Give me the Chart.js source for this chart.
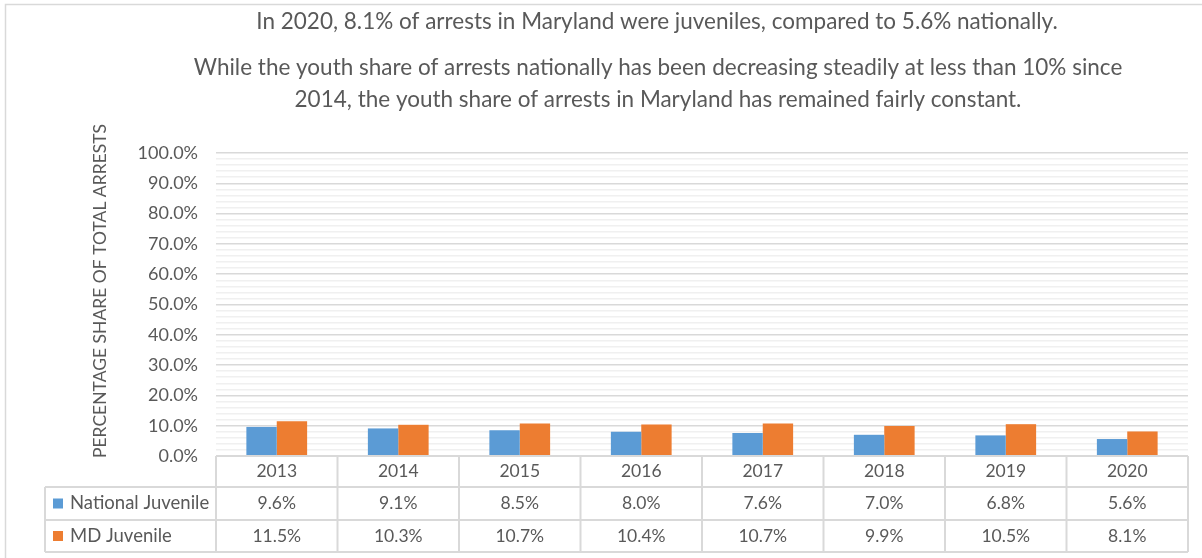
<!DOCTYPE html>
<html>
<head>
<meta charset="utf-8">
<script src="https://cdn.jsdelivr.net/npm/chart.js@4.4.1/dist/chart.umd.min.js"></script>
<style>
  html, body { margin: 0; padding: 0; background: #ffffff; }
  #wrap { width: 1202px; height: 558px; }
</style>
</head>
<body>
<div id="wrap"><canvas id="chart" width="1202" height="558"></canvas></div>
<script>
const years = ["2013", "2014", "2015", "2016", "2017", "2018", "2019", "2020"];
const nationalJuvenile = [9.6, 9.1, 8.5, 8.0, 7.6, 7.0, 6.8, 5.6];
const mdJuvenile = [11.5, 10.3, 10.7, 10.4, 10.7, 9.9, 10.5, 8.1];
const seriesNames = ["National Juvenile", "MD Juvenile"];
const titleLines = [
    "In 2020, 8.1% of arrests in Maryland were juveniles, compared to 5.6% nationally.",
    "While the youth share of arrests nationally has been decreasing steadily at less than 10% since",
    "2014, the youth share of arrests in Maryland has remained fairly constant.",
];
const axisTitle = "PERCENTAGE SHARE OF TOTAL ARRESTS";

const COLORS = ["#5b9bd5", "#ed7d31"];
const TEXT = "#595959";
const LINE = "#d9d9d9";
const FONT = "Lato, 'Open Sans', sans-serif";

const pct = (v) => v.toFixed(1) + "%";

// title, axis title and data table under the plot
const decorations = {
    id: "decorations",
    beforeDraw(chart) {
        const ctx = chart.ctx;
        ctx.save();
        ctx.fillStyle = "#ffffff";
        ctx.fillRect(0, 0, chart.width, chart.height);
        ctx.strokeStyle = LINE;
        ctx.lineWidth = 1.5;
        ctx.strokeRect(5.5, 4.5, chart.width + 10, chart.height + 10);
        ctx.restore();
    },
    afterDraw(chart) {
        const ctx = chart.ctx;
        const area = chart.chartArea;
        ctx.save();

        // title
        ctx.fillStyle = TEXT;
        ctx.textAlign = "center";
        ctx.textBaseline = "middle";
        ctx.font = "22.5px " + FONT;
        ctx.fillText(titleLines[0], 657, 22);
        ctx.fillText(titleLines[1], 658, 68);
        ctx.fillText(titleLines[2], 658, 100);

        // y axis title
        ctx.save();
        ctx.translate(100, 291);
        ctx.rotate(-Math.PI / 2);
        ctx.font = "17.5px " + FONT;
        ctx.fillText(axisTitle, 0, 0);
        ctx.restore();

        // data table
        const n = years.length;
        const colW = (area.right - area.left) / n;
        const rows = [area.bottom, area.bottom + 31, area.bottom + 64, area.bottom + 96];
        const legendLeft = 45;

        ctx.strokeStyle = LINE;
        ctx.lineWidth = 2;
        ctx.beginPath();
        ctx.moveTo(area.left, rows[0]);
        ctx.lineTo(area.right, rows[0]);
        for (let r = 1; r < rows.length; r++) {
            ctx.moveTo(legendLeft, rows[r]);
            ctx.lineTo(area.right, rows[r]);
        }
        for (let i = 0; i <= n; i++) {
            const x = area.left + i * colW;
            ctx.moveTo(x, rows[0]);
            ctx.lineTo(x, rows[3]);
        }
        ctx.moveTo(legendLeft, rows[1]);
        ctx.lineTo(legendLeft, rows[3]);
        ctx.stroke();

        ctx.font = "17.5px " + FONT;
        ctx.fillStyle = TEXT;
        ctx.textAlign = "center";
        const series = [nationalJuvenile, mdJuvenile];
        years.forEach((year, i) => {
            const cx = chart.scales.x.getPixelForValue(i);
            ctx.fillText(year, cx, (rows[0] + rows[1]) / 2);
            series.forEach((s, j) => {
                ctx.fillText(pct(s[i]), cx, (rows[j + 1] + rows[j + 2]) / 2);
            });
        });

        // legend keys in the table
        ctx.textAlign = "left";
        ctx.font = "18.5px " + FONT;
        seriesNames.forEach((name, j) => {
            const cy = (rows[j + 1] + rows[j + 2]) / 2;
            ctx.fillStyle = COLORS[j];
            ctx.fillRect(53, cy - 5, 10, 10);
            ctx.fillStyle = TEXT;
            ctx.fillText(name, 70, cy);
        });

        ctx.restore();
    },
};

new Chart(document.getElementById("chart"), {
    type: "bar",
    data: {
        labels: years,
        datasets: [
            {
                label: seriesNames[0],
                data: nationalJuvenile,
                backgroundColor: COLORS[0],
                borderWidth: 0,
            },
            {
                label: seriesNames[1],
                data: mdJuvenile,
                backgroundColor: COLORS[1],
                borderWidth: 0,
            },
        ],
    },
    options: {
        responsive: false,
        animation: false,
        devicePixelRatio: 1,
        layout: { padding: { top: 153, bottom: 102, left: 0, right: 14 } },
        datasets: {
            bar: { categoryPercentage: 0.5, barPercentage: 1.0 },
        },
        plugins: {
            legend: { display: false },
            tooltip: { enabled: false },
            title: { display: false },
        },
        scales: {
            x: {
                display: false,
            },
            y: {
                min: 0,
                max: 100,
                afterFit: (scale) => {
                    scale.width = 216;
                },
                border: { display: false },
                grid: {
                    drawTicks: false,
                    lineWidth: 1.5,
                    color: (c) => (c.tick && c.tick.value % 10 === 0 ? LINE : "#f0f0f0"),
                },
                ticks: {
                    stepSize: 2,
                    autoSkip: false,
                    padding: 18,
                    color: TEXT,
                    font: { family: FONT, size: 18 },
                    callback: (v) => (v % 10 === 0 ? pct(v) : ""),
                },
            },
        },
    },
    plugins: [decorations],
});
</script>
</body>
</html>
